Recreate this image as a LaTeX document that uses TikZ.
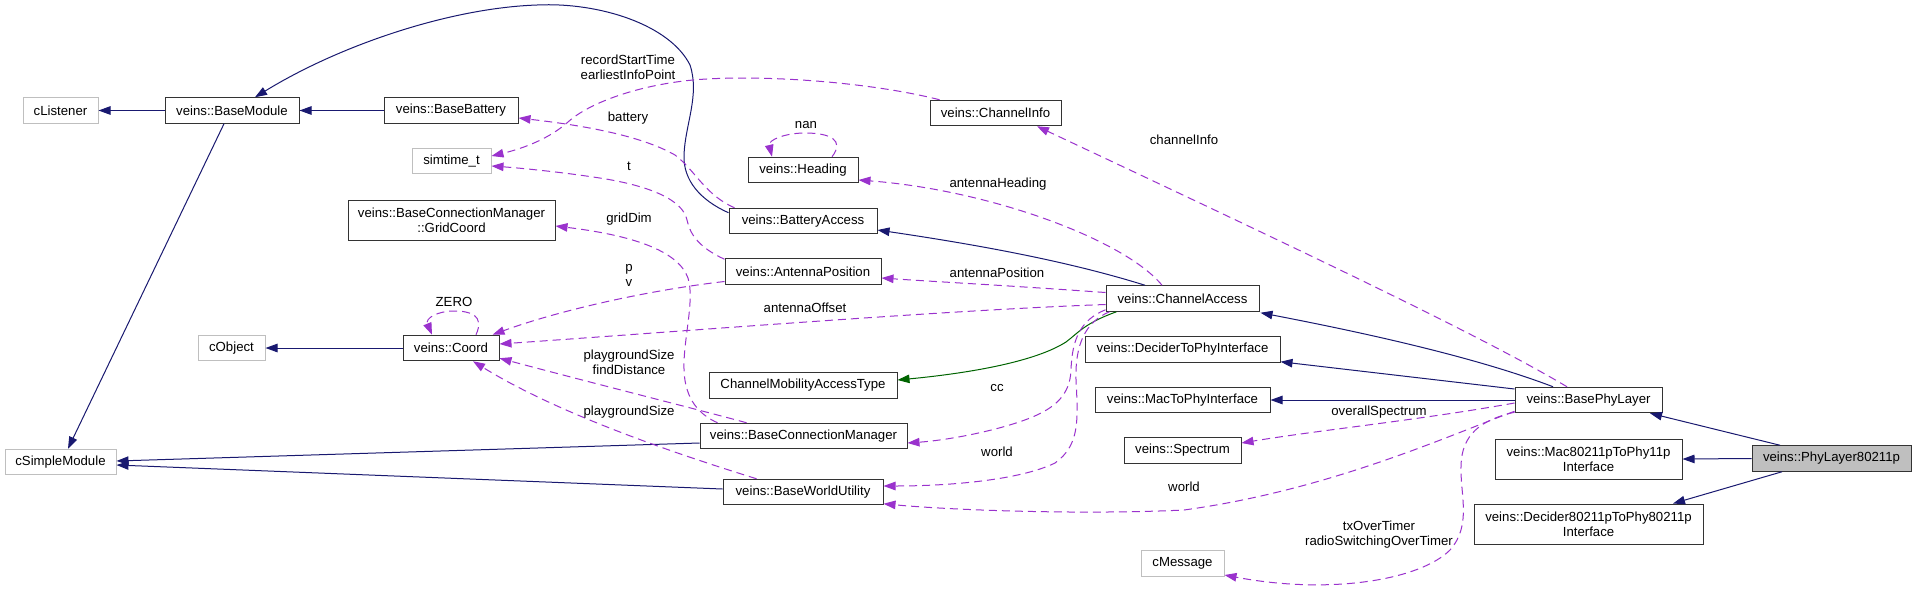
\documentclass[tikz,border=0pt]{standalone}
\usepackage{fontspec}
\setmainfont{Liberation Sans}
\usetikzlibrary{arrows.meta,calc}
\definecolor{navyc}{HTML}{191970}
\definecolor{purpc}{HTML}{9A32CD}
\definecolor{greenc}{HTML}{006400}
\definecolor{grayb}{HTML}{BFBFBF}
\definecolor{nodeb}{HTML}{333333}
\newcommand\dxf{\fontsize{13.2}{15}\selectfont}
\begin{document}
\begin{tikzpicture}[x=1pt,y=-1pt,
  cls/.style={draw=nodeb, line width=1pt, minimum height=25.5pt, inner sep=0pt, font=\dxf, align=center, fill=white},
  ext/.style={cls, draw=grayb},
  twol/.style={cls, minimum height=40pt},
  lbl/.style={font=\dxf, align=center, inner sep=0pt},
  inh/.style={draw=navyc, line width=1pt, -{Triangle[length=12pt,width=8.5pt]}},
  grn/.style={draw=greenc, line width=1pt, -{Triangle[length=12pt,width=8.5pt]}},
  use/.style={draw=purpc, line width=1pt, dash pattern=on 8pt off 5pt, -{Triangle[length=12pt,width=8.5pt]}}]
\useasboundingbox (0,0) rectangle (1916,595);
\fill[white] (0,0) rectangle (1916,595);

% nodes
\node[ext, minimum width=75pt] (cl) at (60.5,110.5) {cListener};
\node[cls, minimum width=134pt] (bm) at (232,110.5) {veins::BaseModule};
\node[cls, minimum width=134pt] (bb) at (451,110.5) {veins::BaseBattery};
\node[ext, minimum width=79pt] (st) at (451.5,161) {simtime\_t};
\node[twol, minimum width=207pt] (gc) at (451.5,220) {veins::BaseConnectionManager\\::GridCoord};
\node[ext, minimum width=67pt] (cob) at (231.5,348) {cObject};
\node[cls, minimum width=96pt] (co) at (451,348) {veins::Coord};
\node[ext, minimum width=111pt] (csm) at (60.5,462) {cSimpleModule};
\node[cls, minimum width=110pt] (hd) at (803,170) {veins::Heading};
\node[cls, minimum width=148pt] (bta) at (803,221) {veins::BatteryAccess};
\node[cls, minimum width=156pt] (ap) at (803,271.5) {veins::AntennaPosition};
\node[cls, minimum width=131pt] (ci) at (995.5,113) {veins::ChannelInfo};
\node[cls, minimum width=188pt] (cmat) at (803,385.5) {ChannelMobilityAccessType};
\node[cls, minimum width=207pt] (bcm) at (803.5,436) {veins::BaseConnectionManager};
\node[cls, minimum width=160pt] (bwu) at (803,492) {veins::BaseWorldUtility};
\node[cls, minimum width=153pt] (ca) at (1182.5,298.5) {veins::ChannelAccess};
\node[cls, minimum width=195pt] (dtpi) at (1182.5,349.5) {veins::DeciderToPhyInterface};
\node[cls, minimum width=175pt] (mtpi) at (1182.5,400) {veins::MacToPhyInterface};
\node[cls, minimum width=117pt] (sp) at (1182.5,450.5) {veins::Spectrum};
\node[ext, minimum width=83pt] (cm) at (1182.5,563.5) {cMessage};
\node[cls, minimum width=147pt] (bpl) at (1588.5,400) {veins::BasePhyLayer};
\node[twol, minimum width=187pt] (mac) at (1588.5,459) {veins::Mac80211pToPhy11p\\Interface};
\node[cls, minimum width=159pt, fill=grayb] (pl) at (1831.5,458.5) {veins::PhyLayer80211p};
\node[twol, minimum width=229pt] (dec) at (1588.5,524) {veins::Decider80211pToPhy80211p\\Interface};

% inheritance
\draw[inh] (bm.west) -- (cl.east);
\draw[inh] (bb.west) -- (bm.east);
\draw[inh] ($(bm.south)+(-8,0)$) -- ($(csm.north)+(7.5,0)$);
\draw[inh] ($(bta.north west)+(0,5)$) .. controls (700,200) and (683,180) .. (684,155)
   .. controls (685,125) and (700,95) .. (690,65)
   .. controls (670,25) and (600,2) .. (537,5)
   .. controls (450,8) and (340,45) .. ($(bm.north)+(23,0)$);
\draw[inh] (co.west) -- (cob.east);
\draw[inh] ($(bcm.west)+(0,7)$) -- ($(csm.east)+(0,-1)$);
\draw[inh] ($(bwu.west)+(0,-3)$) -- ($(csm.east)+(0,3)$);
\draw[inh] ($(ca.north)+(-37.5,0)$) .. controls (1080,265) and (1000,248) .. ($(bta.east)+(0,9)$);
\draw[grn] ($(ca.south west)+(11,0)$) .. controls (1085,323) and (1078,333) .. (1066,342)
   .. controls (1030,365) and (950,375) .. ($(cmat.east)+(0,-5.5)$);
\draw[inh] ($(bpl.north)+(-35.5,0)$) .. controls (1470,355) and (1350,330) .. ($(ca.south east)+(1,1)$);
\draw[inh] ($(bpl.west)+(0,-11)$) -- ($(dtpi.south east)+(0,-1)$);
\draw[inh] (bpl.west) -- (mtpi.east);
\draw[inh] ($(pl.north)+(-51.5,0)$) -- ($(bpl.south)+(61.5,0)$);
\draw[inh] (pl.west) -- (mac.east);
\draw[inh] ($(pl.south)+(-49.5,0)$) -- ($(dec.north)+(84.5,0)$);

% usage
\draw[use] ($(ci.north west)+(10,0)$) .. controls (870,82) and (760,74) .. (693,80)
   .. controls (640,85) and (590,102) .. (568,122)
   .. controls (550,138) and (525,148) .. ($(st.east)+(0,-5)$);
\node[lbl] (l1) at (628,67.5) {recordStartTime\\earliestInfoPoint};

\draw[use] ($(bta.north west)+(6,0)$) .. controls (705,195) and (695,170) .. (675,155)
   .. controls (640,135) and (580,125) .. ($(bb.east)+(0,7.5)$);
\node[lbl] (l2) at (628,118) {battery};

\draw[use] ($(ap.north west)+(0,1)$) .. controls (700,248) and (690,235) .. (687,220)
   .. controls (683,200) and (650,185) .. (593,177)
   .. controls (560,172) and (520,168) .. ($(st.east)+(0,5)$);
\node[lbl] (l3) at (629,166) {t};

\draw[use] ($(bcm.north west)+(18,0)$) .. controls (700,415) and (685,400) .. (684,370)
   .. controls (683,340) and (695,300) .. (688,278)
   .. controls (678,250) and (630,235) .. ($(gc.east)+(0,6)$);
\node[lbl] (l4) at (629,219) {gridDim};

\draw[use] ($(ap.west)+(0,10)$) .. controls (650,290) and (560,310) .. ($(co.north east)+(-7,0)$);
\node[lbl] (l5) at (629,275.5) {p\\v};

\draw[use] ($(co.north)+(25,0)$) .. controls (485,315) and (470,311) .. (454,311)
   .. controls (438,311) and (425,318) .. ($(co.north)+(-19,0)$);
\node[lbl] (l6) at (454,302) {ZERO};

\draw[use] ($(ca.west)+(0,6)$) .. controls (950,310) and (700,330) .. ($(co.east)+(0,-4)$);
\node[lbl] (l7) at (805,308) {antennaOffset};

\draw[use] ($(bcm.north west)+(47,0)$) .. controls (700,410) and (600,385) .. ($(co.south east)+(0,-3)$);
\node[lbl] (l8) at (629,362) {playgroundSize\\findDistance};

\draw[use] ($(bwu.north west)+(34,0)$) .. controls (680,455) and (560,415) .. ($(co.south)+(22,0)$);
\node[lbl] (l9) at (629,412) {playgroundSize};

\draw[use] ($(ca.west)+(0,-6)$) .. controls (1000,285) and (940,282) .. ($(ap.east)+(0,6.5)$);
\node[lbl] (l10) at (997,273) {antennaPosition};

\draw[use] ($(ca.north)+(-20.5,0)$) .. controls (1125,240) and (990,190) .. ($(hd.east)+(0,10)$);
\node[lbl] (l11) at (998,184) {antennaHeading};

\draw[use] ($(hd.north)+(29,0)$) .. controls (845,140) and (830,133) .. (805,133)
   .. controls (785,133) and (768,140) .. ($(hd.north)+(-31,0)$);
\node[lbl] (l12) at (806,125) {nan};

\draw[use] ($(bpl.north)+(-21.5,0)$) .. controls (1480,335) and (1300,250) .. ($(ci.south)+(41.5,0)$);
\node[lbl] (l13) at (1184,140) {channelInfo};

\draw[use] ($(ca.south west)+(0,-2)$) .. controls (1080,320) and (1072,340) .. (1071,370)
   .. controls (1070,395) and (1055,408) .. (1030,418)
   .. controls (1000,430) and (950,440) .. ($(bcm.east)+(0,7)$);
\node[lbl] (l14) at (997,388) {cc};

\draw[use] ($(ca.south west)+(4,0)$) .. controls (1085,322) and (1075,345) .. (1076,380)
   .. controls (1078,420) and (1080,445) .. (1055,463)
   .. controls (1020,480) and (950,486) .. ($(bwu.east)+(0,-6)$);
\node[lbl] (l15) at (997,452) {world};

\draw[use] ($(bpl.west)+(0,3)$) .. controls (1420,420) and (1320,430) .. ($(sp.east)+(0,-7.5)$);
\node[lbl] (l16) at (1379,412) {overallSpectrum};

\draw[use] ($(bpl.south west)+(0,-2)$) .. controls (1450,435) and (1330,490) .. (1184,510)
   .. controls (1080,515) and (950,510) .. ($(bwu.south east)+(0,-1.5)$);
\node[lbl] (l17) at (1184,487) {world};

\draw[use] ($(bpl.south west)+(0,-1)$) .. controls (1480,420) and (1462,435) .. (1461,465)
   .. controls (1460,495) and (1472,525) .. (1450,550)
   .. controls (1420,580) and (1330,595) .. ($(cm.east)+(0,11.5)$);
\node[lbl] (l18) at (1379,534.5) {txOverTimer\\radioSwitchingOverTimer};
\end{tikzpicture}
\end{document}
